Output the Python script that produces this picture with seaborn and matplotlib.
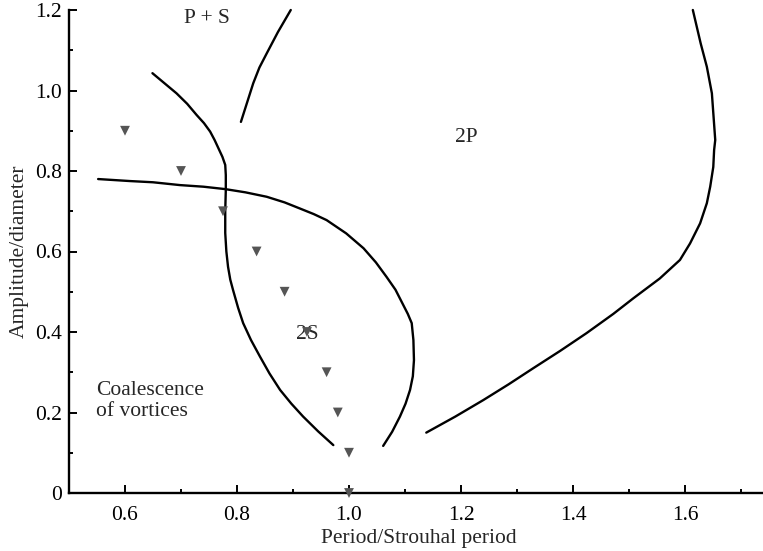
"""
plot.py

Vortex wake mode map: amplitude/diameter against period/Strouhal period,
with regime boundaries and the measured points.
"""

import pandas as pd
import seaborn as sns
import matplotlib.pyplot as plt
from matplotlib.ticker import FixedLocator, MultipleLocator

# Boundary: left edge of the 2S region
left_x = [0.649, 0.692, 0.711, 0.728, 0.741, 0.752, 0.760, 0.767, 0.774,
          0.779, 0.780, 0.780, 0.779, 0.779, 0.781, 0.784, 0.788, 0.793,
          0.802, 0.811, 0.825, 0.841, 0.858, 0.877, 0.897, 0.918, 0.945,
          0.972]
left_y = [1.043, 0.993, 0.967, 0.939, 0.919, 0.898, 0.877, 0.856, 0.835,
          0.815, 0.790, 0.753, 0.700, 0.646, 0.600, 0.562, 0.530, 0.504,
          0.460, 0.422, 0.380, 0.339, 0.297, 0.256, 0.222, 0.190, 0.153,
          0.119]

# Boundary: top / right edge of the 2S region
right_x = [0.552, 0.609, 0.650, 0.698, 0.740, 0.779, 0.815, 0.853, 0.885,
           0.912, 0.937, 0.960, 0.995, 1.026, 1.048, 1.067, 1.083, 1.094,
           1.105, 1.112, 1.115, 1.116, 1.114, 1.109, 1.101, 1.091, 1.077,
           1.061]
right_y = [0.780, 0.775, 0.772, 0.765, 0.761, 0.755, 0.747, 0.736, 0.722,
           0.707, 0.693, 0.678, 0.645, 0.608, 0.573, 0.537, 0.505, 0.475,
           0.445, 0.422, 0.380, 0.330, 0.290, 0.256, 0.222, 0.190, 0.152,
           0.117]

# Boundary between P + S and 2P (upper)
ps_x = [0.807, 0.818, 0.829, 0.840, 0.853, 0.873, 0.896]
ps_y = [0.922, 0.970, 1.018, 1.057, 1.092, 1.145, 1.200]

# Boundary of the 2P region (right)
tp_x = [1.138, 1.190, 1.240, 1.285, 1.329, 1.377, 1.424, 1.472, 1.508,
        1.555, 1.591, 1.609, 1.627, 1.639, 1.645, 1.6505, 1.652, 1.654,
        1.651, 1.648, 1.639, 1.628, 1.614]
tp_y = [0.150, 0.190, 0.231, 0.270, 0.310, 0.353, 0.397, 0.445, 0.484,
        0.533, 0.579, 0.620, 0.670, 0.720, 0.761, 0.810, 0.852, 0.877,
        0.935, 0.993, 1.059, 1.117, 1.200]

# Measured points
pts_x = [0.60, 0.70, 0.775, 0.835, 0.885, 0.925, 0.96, 0.98, 1.00, 1.00]
pts_y = [0.90, 0.80, 0.70, 0.60, 0.50, 0.40, 0.30, 0.20, 0.10, 0.00]

x_ticks = [0.6, 0.8, 1.0, 1.2, 1.4, 1.6]
x_tick_labels = ["0.6", "0.8", "1.0", "1.2", "1.4", "1.6"]
y_ticks = [0, 0.2, 0.4, 0.6, 0.8, 1.0, 1.2]
y_tick_labels = ["0", "0.2", "0.4", "0.6", "0.8", "1.0", "1.2"]

FS = 15.5

sns.set_style("ticks")
plt.rcParams['font.family'] = ['Liberation Serif', 'DejaVu Serif']
plt.rcParams['font.size'] = FS

fig = plt.figure(figsize=(7.63, 5.51), dpi=100)
# axes run a little past the right edge of the figure, as in the original
ax = fig.add_axes([69 / 763, 58 / 551, 700 / 763, 483 / 551])

curves = [(left_x, left_y), (right_x, right_y), (ps_x, ps_y), (tp_x, tp_y)]
for cx, cy in curves:
    df = pd.DataFrame({"x": cx, "y": cy})
    sns.lineplot(data=df, x="x", y="y", sort=False, estimator=None,
                 color="black", linewidth=1.7, ax=ax, clip_on=False)

pts = pd.DataFrame({"x": pts_x, "y": pts_y})
sns.scatterplot(data=pts, x="x", y="y", marker="v", color="#555555",
                s=50, edgecolor="none", ax=ax, clip_on=False, zorder=5)

# Region labels
ax.text(0.746, 1.178, "P + S", ha="center", va="center", fontsize=FS)
ax.text(1.209, 0.882, "2P", ha="center", va="center", fontsize=FS)
ax.text(0.925, 0.393, "2S", ha="center", va="center", fontsize=FS)
ax.text(0.548, 0.228, "Coalescence\nof vortices", ha="left", va="center",
        linespacing=1.15, fontsize=FS)

ax.set_xlim(0.5, 1.75)
ax.set_ylim(0, 1.2)
ax.xaxis.set_major_locator(FixedLocator(x_ticks))
ax.set_xticklabels(x_tick_labels)
ax.yaxis.set_major_locator(FixedLocator(y_ticks))
ax.set_yticklabels(y_tick_labels)
ax.xaxis.set_minor_locator(MultipleLocator(0.1))
ax.yaxis.set_minor_locator(MultipleLocator(0.1))
ax.tick_params(which="both", direction="in", width=1.4, colors="black",
               labelsize=FS)
ax.tick_params(which="major", length=6)
ax.tick_params(axis="x", which="major", pad=9)
ax.tick_params(axis="y", which="major", pad=5)
ax.tick_params(which="minor", length=3)

ax.set_xlabel("Period/Strouhal period", fontsize=FS)
ax.set_ylabel("Amplitude/diameter", fontsize=FS)
ax.xaxis.set_label_coords(0.5, -0.075)
ax.yaxis.set_label_coords(-0.057, 0.5)

sns.despine(ax=ax)
for side in ["left", "bottom"]:
    ax.spines[side].set_linewidth(1.7)
    ax.spines[side].set_color("black")

fig.savefig("out.png", dpi=100)
